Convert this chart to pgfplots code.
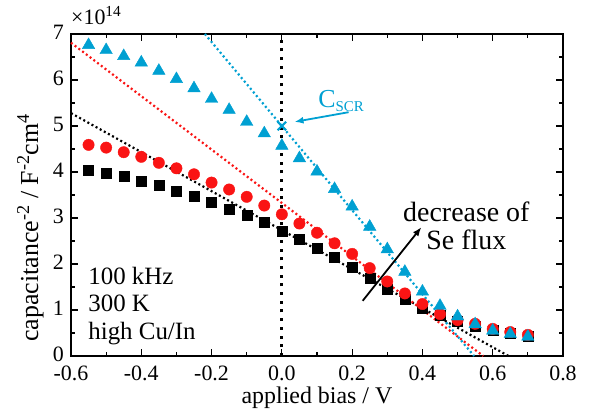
\documentclass[border=0pt]{standalone}
\usepackage{fontspec}
\setmainfont{Liberation Serif}
\usepackage{pgfplots}
\pgfplotsset{compat=1.18}
\usetikzlibrary{arrows.meta}

\definecolor{cscr}{RGB}{0,160,210}
\definecolor{redpt}{RGB}{250,20,20}

\begin{document}
\begin{tikzpicture}
\begin{axis}[
    at={(0,0)}, anchor=south west,
    scale only axis, width=492bp, height=322bp,
    xmin=-0.6, xmax=0.8, ymin=0, ymax=7,
    xtick={-0.6,-0.4,-0.2,0,0.2,0.4,0.6,0.8},
    ytick={0,1,2,3,4,5,6,7},
    minor x tick num=1, minor y tick num=1,
    tick align=inside,
    major tick length=7bp, minor tick length=4bp,
    every tick/.style={black, line width=1.2bp},
    axis line style={line width=1.8bp},
    /pgf/number format/assume math mode=true,
    tick label style={font=\fontsize{22}{26}\selectfont, inner sep=1bp},
    xticklabel style={yshift=-9bp, /pgf/number format/.cd, fixed, fixed zerofill, precision=1},
    yticklabel style={xshift=-6bp, yshift=1.5bp},
    xlabel={applied bias / V},
    ylabel={capacitance\textsuperscript{-2} / F\textsuperscript{-2}cm\textsuperscript{4}},
    xlabel style={font=\fontsize{24}{28}\selectfont, at={(axis description cs:0.5,-0.146)}, anchor=base},
    ylabel style={font=\fontsize{26}{30}\selectfont, at={(axis description cs:-0.067,0.398)}, anchor=base},
    clip=false,
]

% black squares
\addplot[only marks, mark=square*, mark size=5bp, black] coordinates {
    (-0.55,4.04) (-0.50,3.97) (-0.45,3.90) (-0.40,3.80) (-0.35,3.71)
    (-0.30,3.59) (-0.25,3.48) (-0.20,3.34) (-0.15,3.20) (-0.10,3.07)
    (-0.05,2.91) (0.00,2.72) (0.05,2.54) (0.10,2.35) (0.15,2.14)
    (0.20,1.93) (0.25,1.69) (0.30,1.45) (0.35,1.23) (0.40,1.04)
    (0.45,0.89) (0.50,0.75) (0.55,0.64) (0.60,0.57) (0.65,0.49) (0.70,0.44)
};

% red circles
\addplot[only marks, mark=*, mark size=5.7bp, redpt] coordinates {
    (-0.55,4.59) (-0.50,4.53) (-0.45,4.43) (-0.40,4.33) (-0.35,4.20)
    (-0.30,4.08) (-0.25,3.95) (-0.20,3.77) (-0.15,3.62) (-0.10,3.46)
    (-0.05,3.27) (0.00,3.08) (0.05,2.88) (0.10,2.68) (0.15,2.45)
    (0.20,2.22) (0.25,1.91) (0.30,1.62) (0.35,1.36) (0.40,1.13)
    (0.45,0.91) (0.50,0.78) (0.55,0.70) (0.60,0.59) (0.65,0.52) (0.70,0.46)
};

% cyan triangles
\addplot[only marks, mark=triangle*, mark size=7.2bp, cscr] coordinates {
    (-0.55,6.76) (-0.50,6.65) (-0.45,6.52) (-0.40,6.38) (-0.35,6.20)
    (-0.30,6.02) (-0.25,5.82) (-0.20,5.59) (-0.15,5.35) (-0.10,5.09)
    (-0.05,4.84) (0.00,4.57) (0.05,4.30) (0.10,4.01) (0.15,3.63)
    (0.20,3.25) (0.25,2.81) (0.30,2.32) (0.35,1.83) (0.40,1.40)
    (0.45,1.09) (0.50,0.86) (0.55,0.69) (0.60,0.55) (0.65,0.48) (0.70,0.42)
};

% linear fits
\addplot[black, line width=2.2bp, dash pattern=on 2bp off 2.7bp] coordinates {(-0.6,5.28) (0.645,0)};
\addplot[redpt, line width=2.2bp, dash pattern=on 2bp off 2.7bp] coordinates {(-0.6,6.81) (0.573,0)};
\addplot[cscr, line width=2.2bp, dash pattern=on 2bp off 2.7bp] coordinates {(-0.219,7) (0.547,0)};

% zero bias
\addplot[black, line width=3bp, dash pattern=on 3bp off 5.7bp] coordinates {(0,0) (0,7)};

% intercept at zero bias
\addplot[only marks, mark=x, mark size=6bp, cscr, mark options={line width=2bp}] coordinates {(0,5)};

\draw[-{Latex[length=9bp,width=7bp]}, cscr, line width=1.8bp] (axis cs:0.19,5.30) -- (axis cs:0.036,5.09);
\node[anchor=base west, text=cscr, inner sep=0pt, font=\fontsize{26}{30}\selectfont]
    at (axis cs:0.103,5.41) {C\raisebox{-0.35ex}{\fontsize{15}{18}\selectfont SCR}};

\draw[-{Latex[length=9bp,width=7bp]}, black, line width=1.8bp] (axis cs:0.23,1.20) -- (axis cs:0.397,2.80);
\node[align=center, inner sep=0pt, font=\fontsize{28}{28}\selectfont]
    at (axis cs:0.525,2.83) {decrease of\\Se flux};

\node[anchor=north west, align=left, inner sep=0pt, font=\fontsize{25}{27.5}\selectfont]
    at (axis cs:-0.551,1.935) {100 kHz\\300 K\\high Cu/In};

\node[anchor=base west, inner sep=0pt, font=\fontsize{22}{26}\selectfont]
    at (rel axis cs:0,1) [yshift=10bp] {×10\textsuperscript{14}};

\end{axis}
\pgfresetboundingbox
\path[use as bounding box] (-71bp,-59bp) rectangle (521bp,356bp);
\end{tikzpicture}
\end{document}
